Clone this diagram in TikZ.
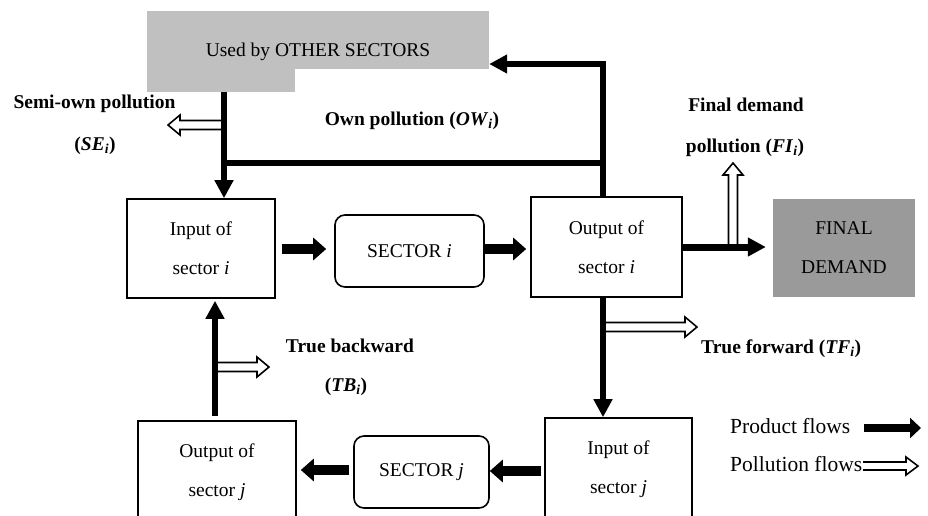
\documentclass[tikz,border=0pt]{standalone}
\usepackage{fontspec}
\setmainfont{Liberation Serif}
\usetikzlibrary{arrows.meta,calc}
\newcommand\myfs{\fontsize{19.5}{39}\selectfont}
\newcommand\mylg{\fontsize{21.5}{26}\selectfont}
\newcommand\pollarr[5]{%
\begin{scope}[shift={(#1)}, rotate=#2]
\draw[line width=1.6pt, fill=white, line join=miter] (0,-#4) -- ({#3-12},-#4) -- ({#3-12},-#5) -- (#3,0) -- ({#3-12},#5) -- ({#3-12},#4) -- (0,#4);
\end{scope}}
\definecolor{lightg}{RGB}{192,192,192}
\definecolor{darkg}{RGB}{154,154,154}
\begin{document}
\begin{tikzpicture}[x=1pt,y=-1pt,
  box/.style={draw, line width=1.6pt, inner sep=0pt, align=center, font=\myfs},
  prod/.style={line width=6.5pt, -{Triangle[length=18pt,width=18pt]}},
  prodh/.style={line width=10pt, -{Triangle[length=13pt,width=22pt]}},
  plainline/.style={line width=6.5pt},
  lab/.style={font=\myfs\bfseries, inner sep=0pt, text height=13.5pt, text depth=4pt},
  txt/.style={font=\myfs, inner sep=0pt, text height=13.5pt, text depth=4pt},
  lgd/.style={font=\mylg, inner sep=0pt, anchor=west, text height=15pt, text depth=4.5pt}]
\useasboundingbox (0,0) rectangle (928,515);
\clip (0,0) rectangle (928,515);

% coordinates
\coordinate (lx) at (224,0);
\coordinate (rx) at (603,0);
\coordinate (bx) at (215,0);
\coordinate (ubl) at (224,92);
\coordinate (topc) at (603,64);
\coordinate (jr) at (603,163);
\coordinate (jl) at (224,163);

% gray box
\node[fill=lightg, minimum width=342pt, minimum height=58pt, inner sep=0pt] (usedby) at (318,40) {};
\fill[lightg] (usedby.south west) rectangle (295,92);
\node[txt] (usedtxt) at (318,52) {Used by OTHER SECTORS};

% boxes
\node[box, minimum width=148pt, minimum height=99pt] (ini) at (201,248.5) {Input of\\sector \textit{i}};
\node[box, rounded corners=10pt, minimum width=149pt, minimum height=72pt] (seci) at (409.5,251) {SECTOR \textit{i}};
\node[box, minimum width=151pt, minimum height=100pt] (outi) at (606.5,247) {Output of\\sector \textit{i}};
\node[fill=darkg, minimum width=142pt, minimum height=98pt, inner sep=0pt, align=center, font=\myfs] (final) at (844,248) {FINAL\\DEMAND};
\node[box, minimum width=147pt, minimum height=102pt] (inj) at (618.5,469) {Input of\\sector \textit{j}};
\node[box, rounded corners=10pt, minimum width=135pt, minimum height=72pt] (secj) at (421.5,472) {SECTOR \textit{j}};
\node[box, minimum width=158pt, minimum height=102pt] (outj) at (217,472) {Output of\\sector \textit{j}};

% pollution (hollow) arrows
\coordinate (se) at (224,125);
\coordinate (fi) at (733,247);
\coordinate (tf) at (603,327);
\coordinate (tb) at (215,367);
\pollarr{se}{180}{56}{4.5}{10}
\pollarr{fi}{90}{84}{4.5}{10}
\pollarr{tf}{0}{94}{4.5}{10}
\pollarr{tb}{0}{54}{4.5}{10}

% product flows
\draw[prod] (ubl) -- (ini.north -| lx);
\draw[plainline] (jr) -- (jl);
\draw[prod, line join=miter] (outi.north -| rx) -- (topc) -- (usedby.east |- topc);
\draw[prodh, shorten <=6pt, shorten >=8pt] (ini.east |- 0,249) -- (seci.west |- 0,249);
\draw[prodh, shorten >=4pt] (seci.east |- 0,249) -- (outi.west |- 0,249);
\draw[prod, line width=7pt, shorten >=7pt] (outi.east |- fi) -- (final.west |- fi);
\draw[prod] (outi.south -| rx) -- (inj.north -| rx);
\draw[prodh, shorten <=3pt] (inj.west |- 0,471) -- (secj.east |- 0,471);
\draw[prodh, shorten <=4pt, shorten >=4pt] (secj.west |- 0,470) -- (outj.east |- 0,470);
\draw[prod, shorten <=4pt, shorten >=2pt] (outj.north -| bx) -- (ini.south -| bx);

% labels
\node[lab] (semi) at (94.5,104) {Semi-own pollution};
\node[lab] (sei) at (95,146) {(\textit{SE}\textsubscript{\textit{i}})};
\node[lab] (own) at (412,121) {Own pollution (\textit{OW}\textsubscript{\textit{i}})};
\node[lab] (fd1) at (746,107) {Final demand};
\node[lab] (fd2) at (745,148) {pollution (\textit{FI}\textsubscript{\textit{i}})};
\node[lab, anchor=west] (tfl) at (701,349) {True forward (\textit{TF}\textsubscript{\textit{i}})};
\node[lab] (tb1) at (350,348) {True backward};
\node[lab] (tb2) at (346,387) {(\textit{TB}\textsubscript{\textit{i}})};

% legend
\node[lgd] (lp) at (730,428) {Product flows};
\node[lgd] (lq) at (730,466) {Pollution flows};
\coordinate (lpa) at (864,428);
\coordinate (lpb) at (921,428);
\draw[line width=8pt, -{Triangle[length=11pt,width=20pt]}] (lpa) -- (lpb);
\coordinate (lqa) at (863,466);
\pollarr{lqa}{0}{55}{4}{9}
\end{tikzpicture}
\end{document}
